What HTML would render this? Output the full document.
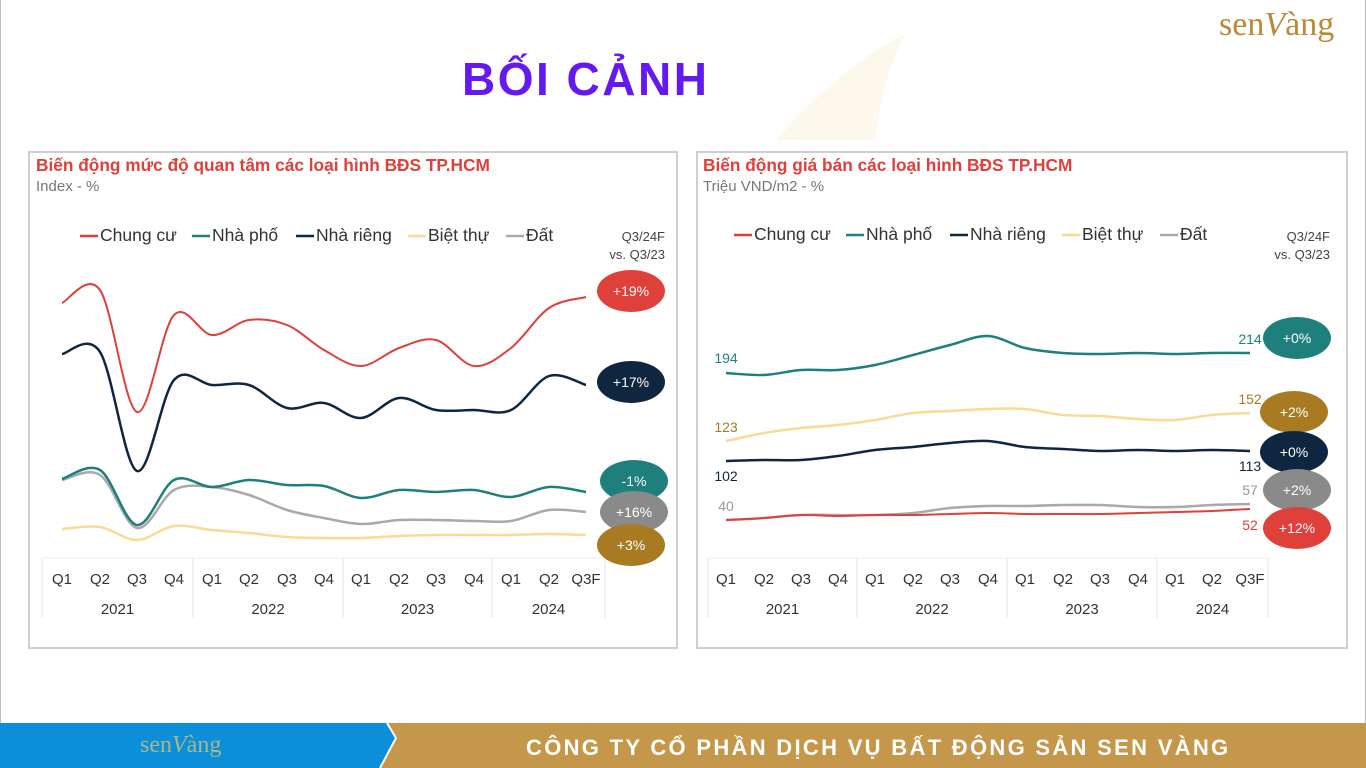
<!DOCTYPE html>
<html><head><meta charset="utf-8"><style>
body{margin:0;width:1366px;height:768px;overflow:hidden;background:#fff;font-family:"Liberation Sans",sans-serif;position:relative}
.box{position:absolute;border:2px solid #cfcfcf;background:#fff}
.t{position:absolute;white-space:nowrap}
</style></head><body>
<div style="position:absolute;left:0;top:0;width:1px;height:723px;background:#bbb"></div>
<div style="position:absolute;right:0;top:0;width:1px;height:723px;background:#bbb"></div>
<svg style="position:absolute;left:0;top:0" width="1366" height="768">
<path d="M776 140 C820 90 870 50 905 35 C890 60 880 100 875 140 Z" fill="#fdf8ec"/>
</svg>
<div class="t" style="left:462px;top:52px;font-size:46px;font-weight:bold;color:#6419f0;letter-spacing:2.5px">BỐI CẢNH</div>
<div class="t" style="left:1219px;top:6px;font-size:34px;color:#b98a38;font-family:'Liberation Serif',serif">sen<span style="font-style:italic">V</span>àng</div>

<div class="box" style="left:28px;top:151px;width:646px;height:494px"></div>
<div class="box" style="left:696px;top:151px;width:648px;height:494px"></div>
<svg id="s" style="position:absolute;left:0;top:0" width="1366" height="768"></svg>

<div style="position:absolute;left:0;top:723px;width:1366px;height:45px;background:#c4974a"></div>
<svg style="position:absolute;left:0;top:723px" width="400" height="45"><polygon points="0,0 387,0 396,15 380,45 0,45" fill="#0b8fd8"/><polyline points="387,0 396,15 380,45" fill="none" stroke="#fff" stroke-width="2"/></svg>
<div class="t" style="left:140px;top:732px;font-size:24px;color:#a8b88a;font-family:'Liberation Serif',serif">sen<i>V</i>àng</div>
<div class="t" style="left:526px;top:735px;font-size:22px;font-weight:bold;color:#fff;letter-spacing:2.3px">CÔNG TY CỔ PHẦN DỊCH VỤ BẤT ĐỘNG SẢN SEN VÀNG</div>

<script>
const s=document.getElementById('s');let h='';
function path(xs,ys,c,w){let d='M'+xs[0]+' '+ys[0];for(let i=0;i<xs.length-1;i++){const p0=[xs[Math.max(i-1,0)],ys[Math.max(i-1,0)]],p1=[xs[i],ys[i]],p2=[xs[i+1],ys[i+1]],p3=[xs[Math.min(i+2,xs.length-1)],ys[Math.min(i+2,xs.length-1)]];d+=` C${p1[0]+(p2[0]-p0[0])/6} ${p1[1]+(p2[1]-p0[1])/6} ${p2[0]-(p3[0]-p1[0])/6} ${p2[1]-(p3[1]-p1[1])/6} ${p2[0]} ${p2[1]}`}h+=`<path d="${d}" fill="none" stroke="${c}" stroke-width="${w}"/>`}
function txt(x,y,t,sz,c,a,wt){h+=`<text x="${x}" y="${y}" font-size="${sz}" fill="${c}" text-anchor="${a||'start'}" font-weight="${wt||'normal'}" font-family="Liberation Sans,sans-serif">${t}</text>`}
function ell(x,y,c,t){h+=`<ellipse cx="${x}" cy="${y}" rx="34" ry="21" fill="${c}"/>`;txt(x,y+5,t,14,'#fff','middle')}
const R='#e0403a',T='#1f7f7d',N='#0f2640',Y='#f8dc96',G='#a9a9a9';
function axis(x0,xs,seps){h+=`<line x1="${seps[0]}" y1="558" x2="${seps[4]}" y2="558" stroke="#eee"/>`;seps.forEach(x=>h+=`<line x1="${x}" y1="558" x2="${x}" y2="618" stroke="#e6e6e6"/>`);
const q=['Q1','Q2','Q3','Q4','Q1','Q2','Q3','Q4','Q1','Q2','Q3','Q4','Q1','Q2','Q3F'];xs.forEach((x,i)=>txt(x,584,q[i],15,'#333','middle'));
['2021','2022','2023','2024'].forEach((y,i)=>txt((seps[i]+seps[i+1])/2,614,y,15,'#333','middle'))}
function legend(x0,y){const L=[['Chung cư',R],['Nhà phố',T],['Nhà riêng',N],['Biệt thự',Y],['Đất',G]];const off=[0,112,216,328,426];L.forEach((l,i)=>{h+=`<line x1="${x0+off[i]}" y1="${y-5}" x2="${x0+off[i]+18}" y2="${y-5}" stroke="${l[1]}" stroke-width="2.5"/>`;txt(x0+off[i]+20,y,l[0],17.5,'#333')})}
let xl=[62,100,137,174,212,249,287,324,361,399,436,474,511,549,586];
txt(36,171,'Biến động mức độ quan tâm các loại hình BĐS TP.HCM',17.3,'#e0403a','start','bold');txt(36,191,'Index - %',15,'#777');
legend(80,241);txt(665,241,'Q3/24F',13,'#444','end');txt(665,259,'vs. Q3/23',13,'#444','end');
path(xl,[529,527,540,526,530,533,537,538,538,536,535,535,535,534,535],Y,2.5);
path(xl,[480,475,528,490,487,495,510,518,524,520,520,521,521,510,512],G,2.5);
path(xl,[479,470,525,480,487,480,485,486,498,490,492,490,497,487,492],T,2.5);
path(xl,[354,352,471,380,385,385,408,403,418,398,410,410,410,376,385],N,2.5);
path(xl,[303,290,412,315,335,320,325,350,366,348,340,366,348,308,297],R,2);
axis(0,xl,[42,193,343,492,605]);
ell(631,291,R,'+19%');ell(631,382,N,'+17%');ell(634,481,T,'-1%');ell(634,512,'#8a8a8a','+16%');ell(631,545,'#a87a22','+3%');
let xr=[726,764,801,838,875,913,950,988,1025,1063,1100,1138,1175,1212,1250];
txt(703,171,'Biến động giá bán các loại hình BĐS TP.HCM',17.3,'#e0403a','start','bold');txt(703,191,'Triệu VND/m2 - %',15,'#777');
legend(734,240);txt(1330,241,'Q3/24F',13,'#444','end');txt(1330,259,'vs. Q3/23',13,'#444','end');
path(xr,[373,375,370,370,365,355,345,336,348,353,354,353,354,353,353],T,2.5);
path(xr,[441,433,428,425,420,413,411,409,409,415,416,419,420,415,413],Y,2.5);
path(xr,[461,460,460,456,450,447,443,441,447,449,451,450,451,450,451],N,2.5);
path(xr,[520,518,515,515,515,513,508,506,506,505,505,507,507,505,504],G,2.5);
path(xr,[520,518,515,516,515,515,514,513,514,514,514,513,512,511,509],R,2);
txt(726,363,'194',14,T,'middle');txt(726,432,'123',14,'#a87a22','middle');txt(726,481,'102',14,N,'middle');txt(726,511,'40',14,'#999','middle');
txt(1250,344,'214',14,T,'middle');txt(1250,404,'152',14,'#a87a22','middle');txt(1250,471,'113',14,N,'middle');txt(1250,495,'57',14,'#999','middle');txt(1250,530,'52',14,R,'middle');
axis(0,xr,[708,857,1007,1157,1268]);
ell(1297,338,T,'+0%');ell(1294,412,'#a87a22','+2%');ell(1294,452,N,'+0%');ell(1297,490,'#8a8a8a','+2%');ell(1297,528,R,'+12%');
s.innerHTML=h;
</script>
</body></html>
